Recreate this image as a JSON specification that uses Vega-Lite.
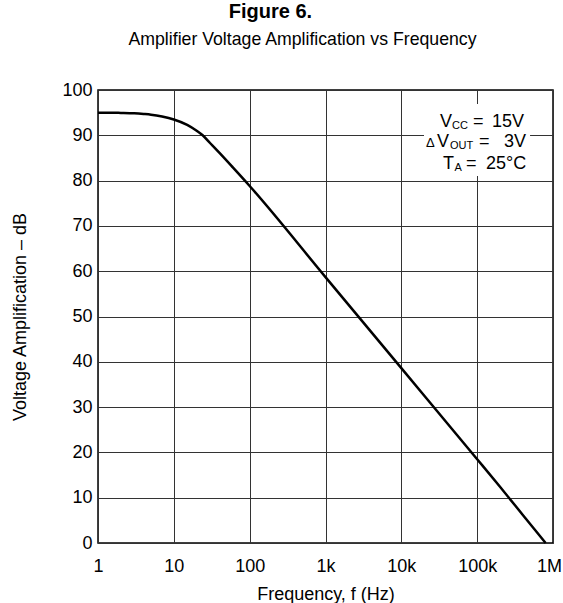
{
  "$schema": "https://vega.github.io/schema/vega-lite/v6.json",
  "width": 455,
  "height": 453,
  "autosize": {"type": "none"},
  "padding": {"left": 98, "top": 90, "right": 10, "bottom": 60},
  "background": "white",
  "title": {
    "text": "Figure 6.",
    "fontSize": 20,
    "fontWeight": "bold",
    "font": "Liberation Sans",
    "color": "black",
    "anchor": "middle",
    "frame": "group",
    "dx": -55,
    "offset": 8
  },
  "config": {
    "font": "Liberation Sans",
    "view": {"stroke": "black", "strokeWidth": 1.5},
    "axis": {
      "labelFont": "Liberation Sans",
      "titleFont": "Liberation Sans",
      "labelColor": "black",
      "titleColor": "black",
      "labelFontSize": 18,
      "titleFontSize": 18,
      "titleFontWeight": "normal",
      "gridColor": "#333333",
      "gridOpacity": 1,
      "gridWidth": 1,
      "domain": false,
      "ticks": false
    }
  },
  "datasets": {
    "curve": [
      {"f": 1, "db": 95.0},
      {"f": 1.5, "db": 95.0},
      {"f": 2, "db": 94.95},
      {"f": 3, "db": 94.85},
      {"f": 4, "db": 94.7},
      {"f": 5, "db": 94.55},
      {"f": 7, "db": 94.15},
      {"f": 10, "db": 93.5},
      {"f": 15, "db": 92.3},
      {"f": 20, "db": 91.0},
      {"f": 24, "db": 90.0},
      {"f": 30, "db": 88.3},
      {"f": 40, "db": 86.1},
      {"f": 60, "db": 82.9},
      {"f": 100, "db": 78.8},
      {"f": 1000, "db": 58.7},
      {"f": 10000, "db": 38.6},
      {"f": 100000, "db": 18.5},
      {"f": 200000, "db": 12.4},
      {"f": 400000, "db": 6.2},
      {"f": 800000, "db": 0}
    ],
    "box": [
      {"f1": 19900, "f2": 498000, "db1": 81, "db2": 96.9}
    ],
    "annot": [
      {"kind": "main", "text": "V", "f": 32360, "db": 91.83},
      {"kind": "sub", "text": "CC", "f": 46600, "db": 91.83},
      {"kind": "main", "text": "=", "f": 88000, "db": 91.83},
      {"kind": "main", "text": "15V", "f": 157000, "db": 91.83},
      {"kind": "sym", "text": "Δ", "f": 21200, "db": 87.42},
      {"kind": "main", "text": "V", "f": 29600, "db": 87.42},
      {"kind": "sub", "text": "OUT", "f": 43800, "db": 87.42},
      {"kind": "main", "text": "=", "f": 105700, "db": 87.42},
      {"kind": "main", "text": "3V", "f": 226000, "db": 87.42},
      {"kind": "main", "text": "T", "f": 35500, "db": 82.56},
      {"kind": "sub", "text": "A", "f": 50300, "db": 82.56},
      {"kind": "main", "text": "=", "f": 71300, "db": 82.56},
      {"kind": "main", "text": "25°C", "f": 131000, "db": 82.56}
    ]
  },
  "layer": [
    {
      "data": {"name": "curve"},
      "mark": {"type": "line", "color": "black", "strokeWidth": 2.5, "interpolate": "monotone"},
      "encoding": {
        "x": {
          "field": "f",
          "type": "quantitative",
          "scale": {"type": "log", "domain": [1, 1000000], "nice": false},
          "axis": {
            "orient": "bottom",
            "values": [1, 10, 100, 1000, 10000, 100000, 1000000],
            "labelExpr": "datum.value >= 1000000 ? '1M' : datum.value >= 1000 ? format(datum.value / 1000, 'd') + 'k' : format(datum.value, 'd')",
            "labelPadding": 14,
            "labelFlush": false,
            "labelOverlap": false,
            "labelOffset": {"condition": {"test": "datum.value >= 1000000", "value": -4}, "value": 0},
            "grid": true,
            "title": "Frequency, f (Hz)",
            "titlePadding": 10
          }
        },
        "y": {
          "field": "db",
          "type": "quantitative",
          "scale": {"domain": [0, 100], "nice": false},
          "axis": {
            "values": [0, 10, 20, 30, 40, 50, 60, 70, 80, 90, 100],
            "labelPadding": 6,
            "grid": true,
            "title": "Voltage Amplification – dB",
            "titlePadding": 32
          }
        }
      }
    },
    {
      "data": {"name": "box"},
      "mark": {"type": "rect", "fill": "white", "stroke": null},
      "encoding": {
        "x": {
          "field": "f1",
          "type": "quantitative",
          "axis": {
            "orient": "top",
            "labels": false,
            "ticks": false,
            "domain": false,
            "grid": false,
            "title": "Amplifier Voltage Amplification vs Frequency",
            "titleFontSize": 17.7,
            "titlePadding": 42,
            "titleX": 204
          }
        },
        "x2": {"field": "f2"},
        "y": {"field": "db1", "type": "quantitative"},
        "y2": {"field": "db2"}
      }
    },
    {
      "data": {"name": "annot"},
      "transform": [{"filter": "datum.kind === 'main'"}],
      "mark": {"type": "text", "align": "left", "baseline": "alphabetic", "fontSize": 18, "color": "black", "font": "Liberation Sans"},
      "encoding": {
        "x": {"field": "f", "type": "quantitative", "axis": null},
        "y": {"field": "db", "type": "quantitative"},
        "text": {"field": "text"}
      }
    },
    {
      "data": {"name": "annot"},
      "transform": [{"filter": "datum.kind === 'sub'"}],
      "mark": {"type": "text", "align": "left", "baseline": "alphabetic", "fontSize": 11, "dy": 2, "color": "black", "font": "Liberation Sans"},
      "encoding": {
        "x": {"field": "f", "type": "quantitative", "axis": null},
        "y": {"field": "db", "type": "quantitative"},
        "text": {"field": "text"}
      }
    },
    {
      "data": {"name": "annot"},
      "transform": [{"filter": "datum.kind === 'sym'"}],
      "mark": {"type": "text", "align": "left", "baseline": "alphabetic", "fontSize": 13, "color": "black", "font": "Liberation Sans"},
      "encoding": {
        "x": {"field": "f", "type": "quantitative", "axis": null},
        "y": {"field": "db", "type": "quantitative"},
        "text": {"field": "text"}
      }
    }
  ],
  "resolve": {"axis": {"x": "independent"}}
}
